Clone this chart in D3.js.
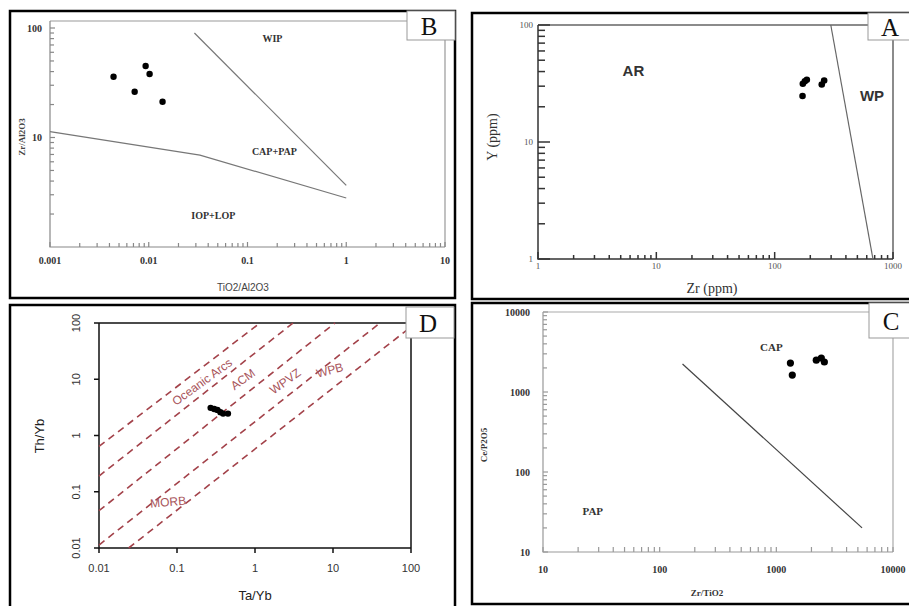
<!DOCTYPE html>
<html>
<head>
<meta charset="utf-8">
<script src="https://cdn.jsdelivr.net/npm/d3@7"></script>
<style>
  body { margin: 0; background: #fff; }
  svg { display: block; }
</style>
</head>
<body>
<svg id="fig" width="909" height="606"></svg>
<script>

// Panel B : Zr/Al2O3 vs TiO2/Al2O3
const bTiO2 = [0.0044, 0.0093, 0.0102, 0.0072, 0.0138];
const bZr = [35.9, 45, 38, 26.2, 21.2];
const bLineWIP = [[0.029, 90], [1, 3.66]];
const bLineIOP = [[0.001, 11.3], [0.033, 6.9], [1, 2.8]];
const bFields = [
  { name: 'WIP', x: 0.179, y: 81 },
  { name: 'CAP+PAP', x: 0.187, y: 7.46 },
  { name: 'IOP+LOP', x: 0.045, y: 1.95 },
];
const bXTicks = [0.001, 0.01, 0.1, 1, 10];
const bYTicks = [10, 100];

// Panel A : Y vs Zr
const aZr = [173, 180, 187, 250, 262, 172];
const aY = [31.5, 33, 34, 31, 33.5, 24.7];
const aLine = [[298, 100], [677, 1]];
const aFields = [
  { name: 'AR', x: 6.4, y: 41 },
  { name: 'WP', x: 664, y: 24.7 },
];
const aXTicks = [1, 10, 100, 1000];
const aYTicks = [1, 10, 100];

// Panel D : Th/Yb vs Ta/Yb
const dTa = [0.27, 0.3, 0.33, 0.36, 0.39, 0.45];
const dTh = [3.1, 2.95, 2.85, 2.6, 2.45, 2.45];
const dLines = [
  [[0.01, 0.64], [1.16, 100]],
  [[0.01, 0.19], [3.07, 100]],
  [[0.01, 0.046], [10.6, 100]],
  [[0.01, 0.0113], [40, 100]],
  [[0.024, 0.01], [92, 78]],
];
const dFields = [
  { name: 'Oceanic Arcs', x: 0.21, y: 9.0, rot: -36 },
  { name: 'ACM', x: 0.70, y: 10, rot: -36 },
  { name: 'WPVZ', x: 2.43, y: 9.2, rot: -36 },
  { name: 'WPB', x: 9.1, y: 14.5, rot: -15 },
  { name: 'MORB', x: 0.077, y: 0.066, rot: -5 },
];
const dXTicks = [0.01, 0.1, 1, 10, 100];
const dYTicks = [0.01, 0.1, 1, 10, 100];

// Panel C : Ce/P2O5 vs Zr/TiO2
const cZrTi = [1320, 1370, 2200, 2430, 2580];
const cCeP = [2300, 1630, 2500, 2660, 2370];
const cLine = [[157, 2240], [5430, 20]];
const cFields = [
  { name: 'CAP', x: 906, y: 3650 },
  { name: 'PAP', x: 26.7, y: 32.5 },
];
const cXTicks = [10, 100, 1000, 10000];
const cYTicks = [10, 100, 1000, 10000];

const svg = d3.select('#fig');

const serifBold = 'font-family:"Liberation Serif","Times New Roman",serif;font-weight:bold;';
const serif = 'font-family:"Liberation Serif","Times New Roman",serif;';
const sans = 'font-family:"Liberation Sans",Arial,sans-serif;';

// minor ticks 2..9 per decade
const minorTicks = (domain) => {
  const out = [];
  for (let e = Math.round(Math.log10(domain[0])); e < Math.round(Math.log10(domain[1])); e++) {
    for (let k = 2; k <= 9; k++) out.push(k * Math.pow(10, e));
  }
  return out;
};

const drawPanel = (p) => {
  const g = svg.append('g');

  // outer frame
  g.append('rect')
    .attr('x', p.frame[0]).attr('y', p.frame[1])
    .attr('width', p.frame[2]).attr('height', p.frame[3])
    .attr('fill', '#fff').attr('stroke', '#000').attr('stroke-width', 2.5);

  const x = d3.scaleLog().domain(p.xDomain).range(p.xRange);
  const y = d3.scaleLog().domain(p.yDomain).range(p.yRange);

  const x0 = p.xRange[0], x1 = p.xRange[1];
  const y0 = p.yRange[0];

  // plot box (top + right sides)
  g.append('path')
    .attr('d', `M${x0},${p.boxTop}H${p.tag[0]}M${x1},${p.tag[1] + p.tag[3]}V${y0}`)
    .attr('fill', 'none').attr('stroke', p.boxColor).attr('stroke-width', p.boxWidth);

  // axes
  g.append('path')
    .attr('d', `M${x0},${p.boxTop}V${y0}H${x1}`)
    .attr('fill', 'none').attr('stroke', p.axisColor).attr('stroke-width', p.axisWidth);

  // ticks (inside unless tickOut)
  const dir = p.tickOut ? 1 : -1;
  if (p.minor) {
    g.append('g').selectAll('line')
      .data(minorTicks(p.xDomain))
      .join('line')
      .attr('x1', d => x(d)).attr('x2', d => x(d))
      .attr('y1', y0).attr('y2', y0 - p.minorX)
      .attr('stroke', p.axisColor).attr('stroke-width', p.axisWidth);
    g.append('g').selectAll('line')
      .data(minorTicks(p.yDomain))
      .join('line')
      .attr('x1', x0).attr('x2', x0 + p.minorY)
      .attr('y1', d => y(d)).attr('y2', d => y(d))
      .attr('stroke', p.axisColor).attr('stroke-width', p.axisWidth);
  }
  g.append('g').selectAll('line')
    .data(p.xTicks)
    .join('line')
    .attr('x1', d => x(d)).attr('x2', d => x(d))
    .attr('y1', y0).attr('y2', y0 + dir * p.majorX)
    .attr('stroke', p.axisColor).attr('stroke-width', p.axisWidth);
  g.append('g').selectAll('line')
    .data(p.yTicks)
    .join('line')
    .attr('x1', x0).attr('x2', x0 - dir * p.majorY)
    .attr('y1', d => y(d)).attr('y2', d => y(d))
    .attr('stroke', p.axisColor).attr('stroke-width', p.axisWidth);

  // tick labels
  g.append('g').selectAll('text')
    .data(p.xTicks)
    .join('text')
    .attr('x', d => x(d)).attr('y', y0 + p.xLabelDy)
    .attr('text-anchor', 'middle')
    .attr('style', p.tickFont).attr('fill', p.tickColor)
    .text(d => d);
  if (p.yLabelRotate) {
    g.append('g').selectAll('text')
      .data(p.yTicks)
      .join('text')
      .attr('transform', d => `translate(${x0 - p.yLabelDx},${y(d)}) rotate(-90)`)
      .attr('text-anchor', 'middle')
      .attr('style', p.tickFont).attr('fill', p.tickColor)
      .text(d => d);
  } else {
    g.append('g').selectAll('text')
      .data(p.yTicks)
      .join('text')
      .attr('x', x0 - p.yLabelDx).attr('y', d => y(d)).attr('dy', '0.35em')
      .attr('text-anchor', 'end')
      .attr('style', p.tickFont).attr('fill', p.tickColor)
      .text(d => d);
  }

  // axis titles
  g.append('text')
    .attr('x', p.xTitle[0]).attr('y', p.xTitle[1])
    .attr('text-anchor', 'middle')
    .attr('style', p.xTitleFont).attr('fill', p.titleColor)
    .text(p.xTitle[2]);
  g.append('text')
    .attr('transform', `translate(${p.yTitle[0]},${p.yTitle[1]}) rotate(-90)`)
    .attr('text-anchor', 'middle')
    .attr('style', p.yTitleFont).attr('fill', p.titleColor)
    .text(p.yTitle[2]);

  // boundary lines
  const line = d3.line().x(d => x(d[0])).y(d => y(d[1]));
  g.append('g').selectAll('path')
    .data(p.lines)
    .join('path')
    .attr('d', line)
    .attr('fill', 'none')
    .attr('stroke', p.lineColor)
    .attr('stroke-width', p.lineWidth)
    .attr('stroke-dasharray', p.dash || null);

  // field names
  g.append('g').selectAll('text')
    .data(p.fields)
    .join('text')
    .attr('transform', d => `translate(${x(d.x)},${y(d.y)}) rotate(${d.rot || 0})`)
    .attr('text-anchor', 'middle').attr('dy', '0.35em')
    .attr('style', p.fieldFont).attr('fill', p.fieldColor)
    .text(d => d.name);

  // samples
  g.append('g').selectAll('circle')
    .data(p.xs.map((v, i) => [v, p.ys[i]]))
    .join('circle')
    .attr('cx', d => x(d[0])).attr('cy', d => y(d[1]))
    .attr('r', p.r).attr('fill', '#000');

  // panel tag
  g.append('rect')
    .attr('x', p.tag[0]).attr('y', p.tag[1])
    .attr('width', p.tag[2]).attr('height', p.tag[3])
    .attr('fill', '#fff').attr('stroke', '#999').attr('stroke-width', 1);
  g.append('text')
    .attr('x', p.tag[0] + 22).attr('y', p.tag[1] + p.tag[3] / 2).attr('dy', '0.36em')
    .attr('text-anchor', 'middle')
    .attr('style', serif + 'font-size:25px;').attr('fill', '#111')
    .text(p.name);
};

drawPanel({
  name: 'B', frame: [10, 11, 445, 287], tag: [407, 11, 48, 29],
  xDomain: [0.001, 10], xRange: [50, 445], yDomain: [1, 100], yRange: [247, 28],
  boxTop: 21, boxColor: '#999', boxWidth: 1.2, axisColor: '#888', axisWidth: 1.2,
  minor: true, minorX: 4, minorY: 4, tickOut: false, majorX: 5, majorY: 5,
  xTicks: bXTicks, yTicks: bYTicks, xLabelDy: 17, yLabelDx: 8,
  tickFont: serifBold + 'font-size:10px;', tickColor: '#333',
  xTitle: [243, 291, 'TiO2/Al2O3'], yTitle: [25, 137, 'Zr/Al2O3'],
  xTitleFont: sans + 'font-size:10px;', yTitleFont: serifBold + 'font-size:9px;', titleColor: '#444',
  lines: [bLineWIP, bLineIOP], lineColor: '#777', lineWidth: 1.2,
  fields: bFields, fieldFont: serifBold + 'font-size:10px;', fieldColor: '#333',
  xs: bTiO2, ys: bZr, r: 3.2,
});

drawPanel({
  name: 'A', frame: [472, 13, 445, 286], tag: [868, 13, 48, 27],
  xDomain: [1, 1000], xRange: [538, 893], yDomain: [1, 100], yRange: [259, 25],
  boxTop: 25, boxColor: '#666', boxWidth: 1.5, axisColor: '#333', axisWidth: 1.5,
  minor: true, minorX: 4, minorY: 7, tickOut: false, majorX: 7, majorY: 12,
  xTicks: aXTicks, yTicks: aYTicks, xLabelDy: 10, yLabelDx: 5,
  tickFont: serif + 'font-size:9px;', tickColor: '#555',
  xTitle: [712, 293, 'Zr (ppm)'], yTitle: [497, 137, 'Y (ppm)'],
  xTitleFont: serif + 'font-size:14px;', yTitleFont: serif + 'font-size:14px;', titleColor: '#333',
  lines: [aLine], lineColor: '#666', lineWidth: 1.2,
  fields: aFields, fieldFont: sans + 'font-weight:bold;font-size:15px;', fieldColor: '#333',
  xs: aZr, ys: aY, r: 3.3,
});

drawPanel({
  name: 'D', frame: [10, 305, 445, 305], tag: [406, 307, 48, 31],
  xDomain: [0.01, 100], xRange: [99, 411], yDomain: [0.01, 100], yRange: [548, 323],
  boxTop: 323, boxColor: '#111', boxWidth: 1.5, axisColor: '#111', axisWidth: 1.5,
  minor: false, tickOut: true, majorX: 5, majorY: 5,
  xTicks: dXTicks, yTicks: dYTicks, xLabelDy: 24, yLabelDx: 19, yLabelRotate: true,
  tickFont: sans + 'font-size:11px;', tickColor: '#333',
  xTitle: [255, 600, 'Ta/Yb'], yTitle: [44, 436, 'Th/Yb'],
  xTitleFont: sans + 'font-size:13px;', yTitleFont: sans + 'font-size:13px;', titleColor: '#222',
  lines: dLines, lineColor: '#a3424a', lineWidth: 1.6, dash: '7,5',
  fields: dFields, fieldFont: sans + 'font-size:12px;', fieldColor: '#a8545a',
  xs: dTa, ys: dTh, r: 3.2,
});

drawPanel({
  name: 'C', frame: [472, 303, 445, 301], tag: [869, 303, 48, 35],
  xDomain: [10, 10000], xRange: [543, 893], yDomain: [10, 10000], yRange: [552, 312],
  boxTop: 312, boxColor: '#aaa', boxWidth: 1.2, axisColor: '#999', axisWidth: 1.2,
  minor: true, minorX: 5, minorY: 4, tickOut: false, majorX: 5, majorY: 5,
  xTicks: cXTicks, yTicks: cYTicks, xLabelDy: 21, yLabelDx: 13,
  tickFont: serifBold + 'font-size:10px;', tickColor: '#333',
  xTitle: [707, 596, 'Zr/TiO2'], yTitle: [487, 445, 'Ce/P2O5'],
  xTitleFont: serifBold + 'font-size:9px;', yTitleFont: serifBold + 'font-size:9px;', titleColor: '#333',
  lines: [cLine], lineColor: '#444', lineWidth: 1.2,
  fields: cFields, fieldFont: serifBold + 'font-size:11px;', fieldColor: '#333',
  xs: cZrTi, ys: cCeP, r: 3.6,
});

</script>
</body>
</html>
